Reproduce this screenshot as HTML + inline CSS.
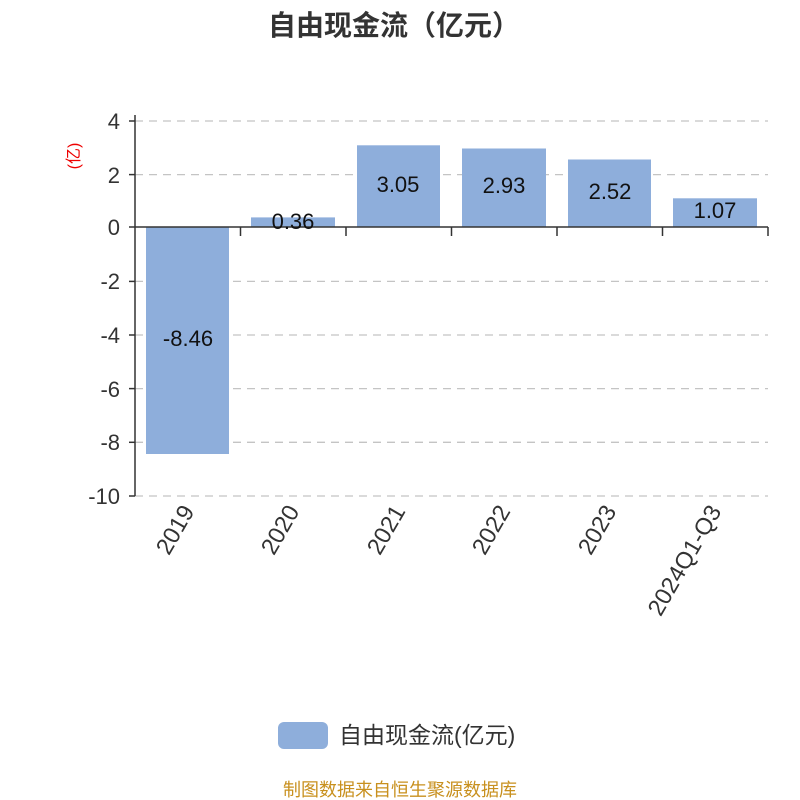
<!DOCTYPE html>
<html><head><meta charset="utf-8"><style>body{margin:0;background:#fff}svg{display:block}text{font-family:"Liberation Sans","Noto Sans CJK SC",sans-serif}</style></head><body>
<svg width="800" height="800" viewBox="0 0 800 800" xmlns="http://www.w3.org/2000/svg">
<text x="394" y="35" text-anchor="middle" font-size="28" font-weight="bold" fill="#333">自由现金流（亿元）</text>
<g stroke="#c4c4c4" stroke-width="1.3" stroke-dasharray="8,6">
<line x1="135" y1="121" x2="768" y2="121"/><line x1="135" y1="174.6" x2="768" y2="174.6"/>
<line x1="135" y1="281.4" x2="768" y2="281.4"/><line x1="135" y1="335" x2="768" y2="335"/>
<line x1="135" y1="388.6" x2="768" y2="388.6"/><line x1="135" y1="442.3" x2="768" y2="442.3"/>
<line x1="135" y1="496" x2="768" y2="496"/>
</g>
<g fill="#8eaedb">
<rect x="146" y="227" width="83" height="227"/>
<rect x="251" y="217.4" width="84" height="9.6"/>
<rect x="357" y="145.3" width="83" height="81.7"/>
<rect x="462" y="148.5" width="84" height="78.5"/>
<rect x="568" y="159.5" width="83" height="67.5"/>
<rect x="673" y="198.3" width="84" height="28.7"/>
</g>
<g stroke="#333" stroke-width="1.5" fill="none">
<line x1="135" y1="115" x2="135" y2="496"/>
<line x1="135" y1="227" x2="768" y2="227"/>
<line x1="129" y1="121" x2="135" y2="121"/><line x1="129" y1="174.6" x2="135" y2="174.6"/>
<line x1="129" y1="227" x2="135" y2="227"/><line x1="129" y1="281.4" x2="135" y2="281.4"/>
<line x1="129" y1="335" x2="135" y2="335"/><line x1="129" y1="388.6" x2="135" y2="388.6"/>
<line x1="129" y1="442.3" x2="135" y2="442.3"/><line x1="129" y1="496" x2="135" y2="496"/>
<line x1="240.5" y1="227" x2="240.5" y2="236"/><line x1="346" y1="227" x2="346" y2="236"/>
<line x1="451.5" y1="227" x2="451.5" y2="236"/><line x1="557" y1="227" x2="557" y2="236"/>
<line x1="662.5" y1="227" x2="662.5" y2="236"/><line x1="768" y1="227" x2="768" y2="236"/>
</g>
<g font-size="22" fill="#333" text-anchor="end">
<text x="120" y="129">4</text><text x="120" y="183">2</text><text x="120" y="235">0</text>
<text x="120" y="289">-2</text><text x="120" y="343">-4</text><text x="120" y="397">-6</text>
<text x="120" y="450">-8</text><text x="120" y="504">-10</text>
</g>
<text transform="translate(79,156) rotate(-90)" text-anchor="middle" font-size="16" fill="#e00">(亿)</text>
<g font-size="22" fill="#111" text-anchor="middle">
<text x="188" y="346">-8.46</text><text x="293" y="229">0.36</text>
<text x="398" y="192">3.05</text><text x="504" y="193">2.93</text>
<text x="610" y="199">2.52</text><text x="715" y="218">1.07</text>
</g>
<g font-size="23.5" fill="#333" text-anchor="end">
<text transform="translate(195,511) rotate(-60)">2019</text>
<text transform="translate(300,511) rotate(-60)">2020</text>
<text transform="translate(406,511) rotate(-60)">2021</text>
<text transform="translate(511,511) rotate(-60)">2022</text>
<text transform="translate(617,511) rotate(-60)">2023</text>
<text transform="translate(722,511) rotate(-60)">2024Q1-Q3</text>
</g>
<rect x="278" y="722" width="50" height="27" rx="6" fill="#8eaedb"/>
<text x="339" y="743" font-size="23" fill="#333">自由现金流(亿元)</text>
<text x="400" y="796" text-anchor="middle" font-size="18" fill="#c8901e">制图数据来自恒生聚源数据库</text>
</svg>
</body></html>
